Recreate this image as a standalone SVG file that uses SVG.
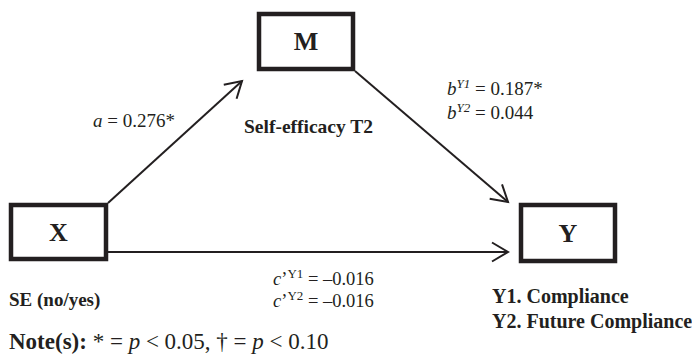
<svg xmlns="http://www.w3.org/2000/svg" width="692" height="361" viewBox="0 0 692 361">
<style>
.box{fill:#fff;stroke:#231f20;stroke-width:4.5}
.edge{fill:none;stroke:#231f20;stroke-width:2}
.lbl{font-family:"Liberation Serif",serif;font-weight:bold;fill:#231f20}
.node{font-size:26px;text-anchor:middle}
.t{font-family:"Liberation Serif",serif;font-size:19px;fill:#231f20}
.b{font-family:"Liberation Serif",serif;font-size:19.5px;font-weight:bold;fill:#231f20}
.sup{font-size:13px}
</style>
<defs>
<marker id="arr" viewBox="-20 -12 24 24" markerWidth="24" markerHeight="24" refX="0" refY="0" orient="auto" markerUnits="userSpaceOnUse">
<path d="M-16,-9.5 L0,0 L-16,9.5" fill="none" stroke="#231f20" stroke-width="2"/>
</marker>
</defs>
<g id="connectors">
<line class="edge" x1="108" y1="203" x2="242" y2="81" marker-end="url(#arr)"/>
<line class="edge" x1="355" y1="71" x2="508" y2="202" marker-end="url(#arr)"/>
<line class="edge" x1="108" y1="252" x2="508" y2="252" marker-end="url(#arr)"/>
</g>
<g id="node-M">
<rect class="box" x="259" y="14" width="94" height="55"/>
<text class="lbl node" x="306" y="50">M</text>
</g>
<g id="node-X">
<rect class="box" x="11" y="205" width="95" height="54"/>
<text class="lbl node" x="58.5" y="241">X</text>
</g>
<g id="node-Y">
<rect class="box" x="521" y="205" width="94" height="56"/>
<text class="lbl node" x="568" y="242">Y</text>
</g>
<g id="labels">
<text class="t" x="93" y="127"><tspan font-style="italic">a</tspan> = 0.276*</text>
<text class="b" x="244" y="133">Self-efficacy T2</text>
<text class="t" x="447" y="95"><tspan font-style="italic">b</tspan><tspan class="sup" font-style="italic" dy="-7">Y1</tspan><tspan dy="7"> = 0.187*</tspan></text>
<text class="t" x="447" y="119"><tspan font-style="italic">b</tspan><tspan class="sup" font-style="italic" dy="-7">Y2</tspan><tspan dy="7"> = 0.044</tspan></text>
<text class="t" x="273" y="285" style="font-size:18.5px"><tspan font-style="italic">c</tspan>’<tspan class="sup" dy="-7">Y1</tspan><tspan dy="7"> = –0.016</tspan></text>
<text class="t" x="273" y="307" style="font-size:18.5px"><tspan font-style="italic">c</tspan>’<tspan class="sup" dy="-7">Y2</tspan><tspan dy="7"> = –0.016</tspan></text>
<text class="b" x="9" y="306" style="font-size:19px">SE (no/yes)</text>
<text class="b" x="492" y="303" style="font-size:20px">Y1. Compliance</text>
<text class="b" x="492" y="328" style="font-size:20px">Y2. Future Compliance</text>
<text class="t" x="9" y="349" style="font-size:23px"><tspan font-weight="bold">Note(s):</tspan> * = <tspan font-style="italic">p</tspan> &lt; 0.05, † = <tspan font-style="italic">p</tspan> &lt; 0.10</text>
</g>
</svg>
